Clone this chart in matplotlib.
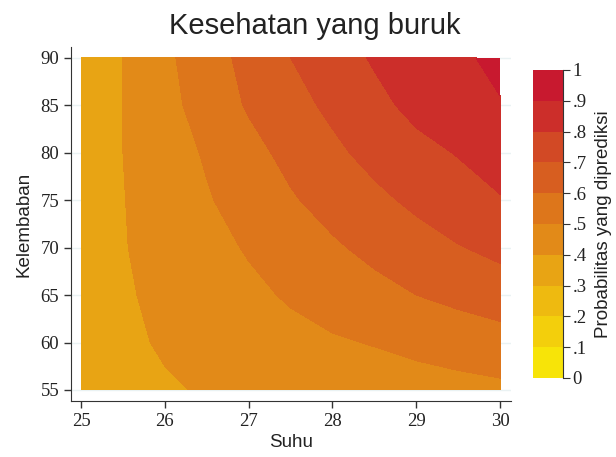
import numpy as np
import matplotlib.pyplot as plt
from matplotlib.colors import ListedColormap, BoundaryNorm

# grid
suhu = [25, 25.5, 26, 26.5, 27, 27.5, 28, 28.5, 29, 29.5, 30]
kelembaban = [55, 60, 65, 70, 75, 80, 85, 90]
prob = [
    [0.365, 0.380, 0.392, 0.406, 0.418, 0.430, 0.440, 0.450, 0.460, 0.470, 0.480],  # 55
    [0.360, 0.385, 0.408, 0.430, 0.453, 0.473, 0.490, 0.505, 0.525, 0.543, 0.560],  # 60
    [0.355, 0.390, 0.420, 0.450, 0.480, 0.510, 0.540, 0.570, 0.600, 0.625, 0.650],  # 65
    [0.350, 0.395, 0.435, 0.470, 0.508, 0.545, 0.587, 0.625, 0.660, 0.695, 0.725],  # 70
    [0.340, 0.397, 0.445, 0.492, 0.540, 0.590, 0.635, 0.678, 0.720, 0.760, 0.795],  # 75
    [0.340, 0.400, 0.455, 0.510, 0.570, 0.627, 0.680, 0.730, 0.773, 0.805, 0.835],  # 80
    [0.330, 0.400, 0.470, 0.540, 0.610, 0.667, 0.720, 0.775, 0.825, 0.862, 0.895],  # 85
    [0.326, 0.400, 0.480, 0.556, 0.630, 0.700, 0.757, 0.810, 0.850, 0.885, 0.920],  # 90
]
levels = [0, .1, .2, .3, .4, .5, .6, .7, .8, .9, 1]
level_labels = ["0", ".1", ".2", ".3", ".4", ".5", ".6", ".7", ".8", ".9", "1"]
colors = ["#F7E408", "#F3CF0C", "#EEBA10", "#E8A414", "#E28A18", "#DD761B",
          "#D75E20", "#D24925", "#CC2E2A", "#C8192F"]

cmap = ListedColormap(colors)
norm = BoundaryNorm(levels, cmap.N)

fig = plt.figure(figsize=(6.16, 4.57), dpi=100)
ax = fig.add_axes([71 / 616, 1 - 401 / 457, 440 / 616, 354 / 457])

X, Y = np.meshgrid(suhu, kelembaban)
ax.contourf(X, Y, np.array(prob), levels=levels, cmap=cmap, norm=norm)

ax.set_xlim(24.88, 30.13)
ax.set_ylim(53.84, 91.13)
ax.set_xticks([25, 26, 27, 28, 29, 30])
ax.set_yticks([55, 60, 65, 70, 75, 80, 85, 90])
for y in [55, 60, 65, 70, 75, 80, 85, 90]:
    ax.axhline(y, color="#EAF2F3", lw=1, zorder=0)
ax.set_axisbelow(True)

for s in ["top", "right"]:
    ax.spines[s].set_visible(False)
ax.spines["left"].set_color("#333333")
ax.spines["bottom"].set_color("#333333")
ax.tick_params(direction="out", length=5, color="#333333", width=1)
for lab in ax.get_xticklabels() + ax.get_yticklabels():
    lab.set_family("Liberation Serif")
    lab.set_fontsize(13.5)
    lab.set_color("#222222")

ax.set_xlabel("Suhu", family="Liberation Sans", fontsize=13.5, color="#222222", labelpad=3)
ax.set_ylabel("Kelembaban", family="Liberation Sans", fontsize=13.5, color="#222222", labelpad=6)
fig.text(315 / 616, 1 - 26 / 457, "Kesehatan yang buruk", ha="center", va="center",
         family="Liberation Sans", fontsize=21, color="#222222")

# colorbar
cax = fig.add_axes([533 / 616, 1 - 378 / 457, 30 / 616, 308 / 457])
for i, c in enumerate(colors):
    cax.bar(0.5, levels[i + 1] - levels[i], bottom=levels[i], width=1, color=c)
cax.set_xlim(0, 1)
cax.set_ylim(0, 1)
cax.set_xticks([])
cax.yaxis.tick_right()
cax.set_yticks(levels)
cax.set_yticklabels(level_labels, family="Liberation Serif", fontsize=13.5, color="#222222")
for s in ["top", "left", "bottom"]:
    cax.spines[s].set_visible(False)
cax.spines["right"].set_color("#333333")
cax.tick_params(axis="y", direction="out", length=5, color="#333333", pad=2)
cax.yaxis.set_label_position("right")
cax.set_ylabel("Probabilitas yang diprediksi", family="Liberation Sans", fontsize=13.5,
               color="#222222", labelpad=6)

fig.savefig("out.png", dpi=100)
